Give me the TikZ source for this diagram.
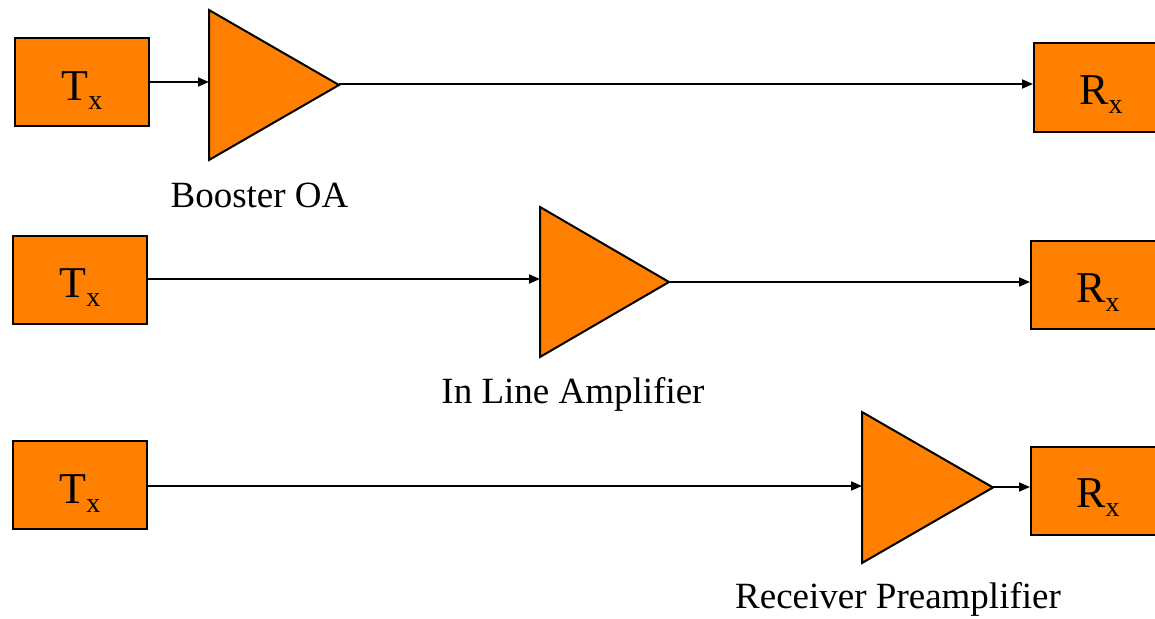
\documentclass[tikz,border=0pt]{standalone}
\usepackage{fontspec}
\setmainfont{Liberation Serif}
\usetikzlibrary{arrows.meta}
\definecolor{orng}{HTML}{FF7F00}
\newcommand\lowx{\raisebox{-9pt}{\fontsize{28}{28}\selectfont x}}
\begin{document}
\begin{tikzpicture}[x=1pt,y=-1pt,
  blk/.style={draw=black, fill=orng, line width=2pt, minimum width=134pt,
    minimum height=88pt, inner sep=0pt, text height=36pt, text depth=0pt,
    font=\fontsize{44}{44}\selectfont},
  rblk/.style={blk, text height=34pt},
  ampshape/.style={draw=black, fill=orng, line width=2pt, line join=miter},
  lbl/.style={anchor=base, inner sep=0pt, font=\fontsize{37}{37}\selectfont},
  sig/.style={-{Triangle[length=11pt,width=9pt]}, line width=1.8pt},
  wire/.style={line width=1.8pt}]
\useasboundingbox (0,0) rectangle (1155,618);
\path[clip] (0,0) rectangle (1155,618);
% row 1
\node[blk] (tx1) at (82,82) {T\lowx};
\node[rblk] (rx1) at (1101,87.5) {R\lowx};
\draw[ampshape] (209,10) -- (209,160) -- (339,85) -- cycle;
\coordinate (a1in) at (209,82);
\coordinate (a1out) at (339,84);
\draw[sig] (tx1.east |- a1in) -- (a1in);
\draw[sig] (a1out) -- (a1out -| rx1.west);
\node[lbl] (l1) at (259.5,207) {Booster OA};
% row 2
\node[blk] (tx2) at (80,279.5) {T\lowx};
\node[rblk] (rx2) at (1098,285) {R\lowx};
\draw[ampshape] (540,207) -- (540,357) -- (669,282) -- cycle;
\coordinate (a2in) at (540,279);
\coordinate (a2out) at (669,282);
\draw[sig] (tx2.east |- a2in) -- (a2in);
\draw[sig] (a2out) -- (a2out -| rx2.west);
\node[lbl] (l2) at (573,403) {In Line Amplifier};
% row 3
\node[blk] (tx3) at (80,485) {T\lowx};
\node[rblk] (rx3) at (1098,490.5) {R\lowx};
\draw[ampshape] (862,412) -- (862,563) -- (993,487.5) -- cycle;
\coordinate (a3in) at (862,486);
\coordinate (a3out) at (993,487);
\draw[sig] (tx3.east |- a3in) -- (a3in);
\draw[sig] (a3out) -- (a3out -| rx3.west);
\node[lbl] (l3) at (898,608) {Receiver Preamplifier};
\end{tikzpicture}
\end{document}
